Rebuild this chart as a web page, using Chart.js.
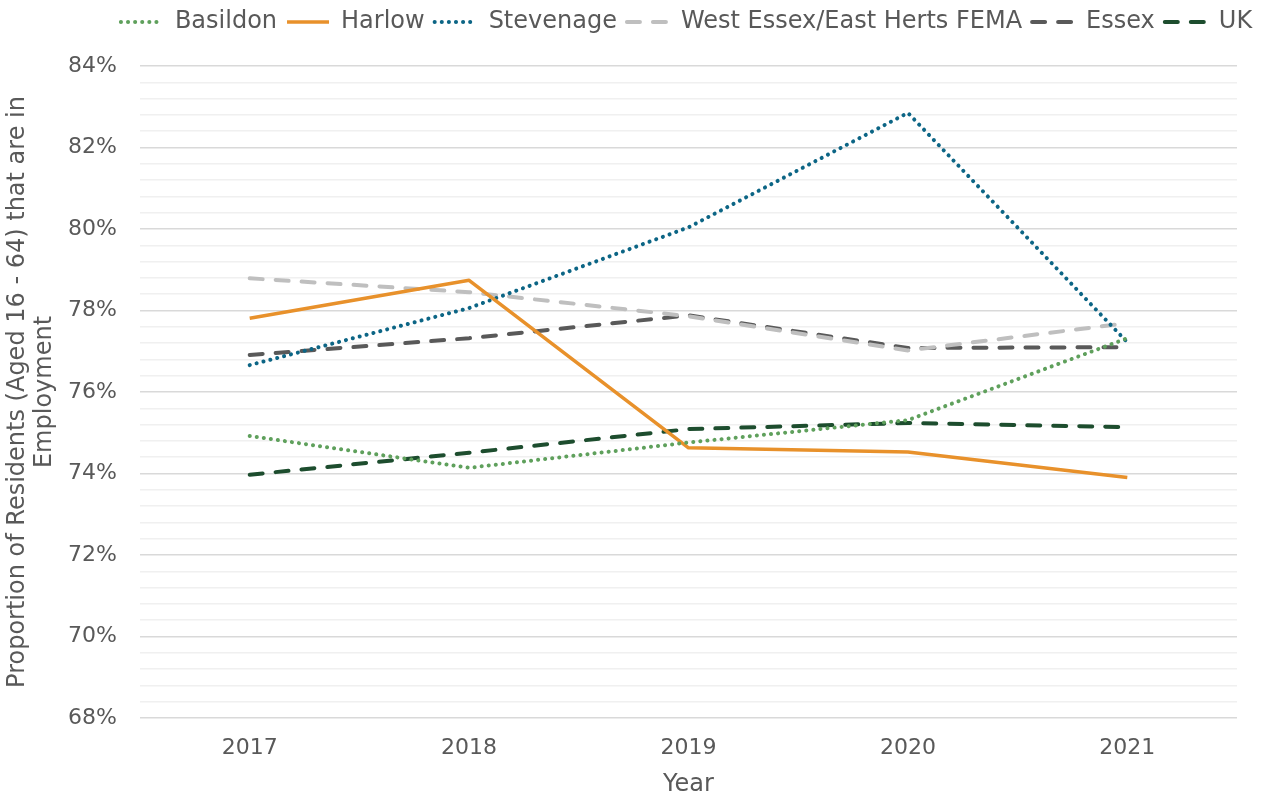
<!DOCTYPE html>
<html>
<head>
<meta charset="utf-8">
<script src="https://cdn.jsdelivr.net/npm/chart.js@4"></script>
<style>
  html, body { margin: 0; padding: 0; background: #ffffff; }
  #wrap { width: 1264px; height: 794px; }
</style>
</head>
<body>
<div id="wrap"><canvas id="c" width="1264" height="794"></canvas></div>
<script>
// Employment rate of residents aged 16-64, by area and year (%)
const years = ['2017', '2018', '2019', '2020', '2021'];
const basildon = [74.92, 74.14, 74.76, 75.31, 77.32];
const harlow = [77.81, 78.74, 74.63, 74.53, 73.90];
const stevenage = [76.66, 78.06, 80.04, 82.85, 77.22];
const westEssexFema = [78.79, 78.45, 77.86, 77.02, 77.69];
const essex = [76.91, 77.32, 77.88, 77.08, 77.10];
const uk = [73.97, 74.51, 75.09, 75.24, 75.14];

const yMin = 68, yMax = 84, yMinorStep = 0.4, yMajorStep = 2;

const textColor = '#595959';
const fontFamily = '"DejaVu Sans", sans-serif';

const dotted = [0.1, 7];
const dashed = [13, 13];

const series = [
  { label: 'Basildon', data: basildon, color: '#5FA05C', dash: dotted, cap: 'round', width: 4 },
  { label: 'Harlow', data: harlow, color: '#E8912B', dash: [], cap: 'butt', width: 3.5 },
  { label: 'Stevenage', data: stevenage, color: '#0C6585', dash: dotted, cap: 'round', width: 4 },
  { label: 'West Essex/East Herts FEMA', data: westEssexFema, color: '#BFBFBF', dash: dashed, cap: 'round', width: 4 },
  { label: 'Essex', data: essex, color: '#595959', dash: dashed, cap: 'round', width: 4 },
  { label: 'UK', data: uk, color: '#1D4D2E', dash: dashed, cap: 'round', width: 4 }
];

const isMajor = v => Math.abs(v / yMajorStep - Math.round(v / yMajorStep)) < 1e-6;

// Extra room under the legend, and a small sideways shift of the legend row
const legendSpacing = {
  id: 'legendSpacing',
  beforeInit(chart) {
    const fit = chart.legend.fit;
    chart.legend.fit = function () {
      fit.call(this);
      this.height += 22;
    };
  },
  afterLayout(chart, args, opts) {
    chart.legend.left += opts.shift;
    chart.legend.right += opts.shift;
  }
};

new Chart(document.getElementById('c'), {
  type: 'line',
  data: {
    labels: years,
    datasets: series.map(s => ({
      label: s.label,
      data: s.data,
      borderColor: s.color,
      backgroundColor: s.color,
      borderWidth: s.width,
      borderDash: s.dash,
      borderCapStyle: s.cap,
      borderJoinStyle: 'round',
      pointRadius: 0,
      pointHoverRadius: 0,
      tension: 0,
      fill: false
    }))
  },
  plugins: [legendSpacing],
  options: {
    responsive: false,
    animation: false,
    devicePixelRatio: 1,
    layout: { padding: { left: 4, right: 27, top: 0, bottom: 0 } },
    plugins: {
      legendSpacing: { shift: 66 },
      legend: {
        position: 'top',
        labels: {
          usePointStyle: true,
          pointStyle: 'line',
          pointStyleWidth: 42,
          color: textColor,
          font: { family: fontFamily, size: 24 },
          padding: 10,
          boxHeight: 8,
          generateLabels(chart) {
            const items = Chart.defaults.plugins.legend.labels.generateLabels(chart);
            items.forEach(item => {
              const s = series[item.datasetIndex];
              item.lineDash = s.dash;
              item.lineCap = s.cap;
              item.lineWidth = s.width;
              item.strokeStyle = s.color;
              item.pointStyle = 'line';
            });
            return items;
          }
        }
      },
      tooltip: { enabled: false }
    },
    scales: {
      x: {
        type: 'category',
        offset: true,
        grid: { display: false },
        border: { display: false },
        ticks: { color: textColor, font: { family: fontFamily, size: 22, lineHeight: 1 }, padding: 11 },
        title: {
          display: true,
          text: 'Year',
          color: textColor,
          font: { family: fontFamily, size: 24, lineHeight: 0.9 },
          padding: { top: 0, bottom: -2 }
        },
        afterFit: scale => { scale.height = 76; }
      },
      y: {
        min: yMin,
        max: yMax,
        border: { display: false },
        grid: {
          color: ctx => isMajor(ctx.tick.value) ? '#D9D9D9' : '#F0F0F0',
          lineWidth: 1.5,
          drawTicks: false
        },
        ticks: {
          stepSize: yMinorStep,
          autoSkip: false,
          color: textColor,
          font: { family: fontFamily, size: 22 },
          padding: 23,
          callback: v => isMajor(v) ? Math.round(v) + '%' : ''
        },
        title: {
          display: true,
          text: ['Proportion of Residents (Aged 16 - 64) that are in', 'Employment'],
          color: textColor,
          font: { family: fontFamily, size: 24, lineHeight: 1.125 },
          padding: { top: 0, bottom: 0 }
        },
        afterFit: scale => { scale.width = 136; }
      }
    }
  }
});
</script>
</body>
</html>
